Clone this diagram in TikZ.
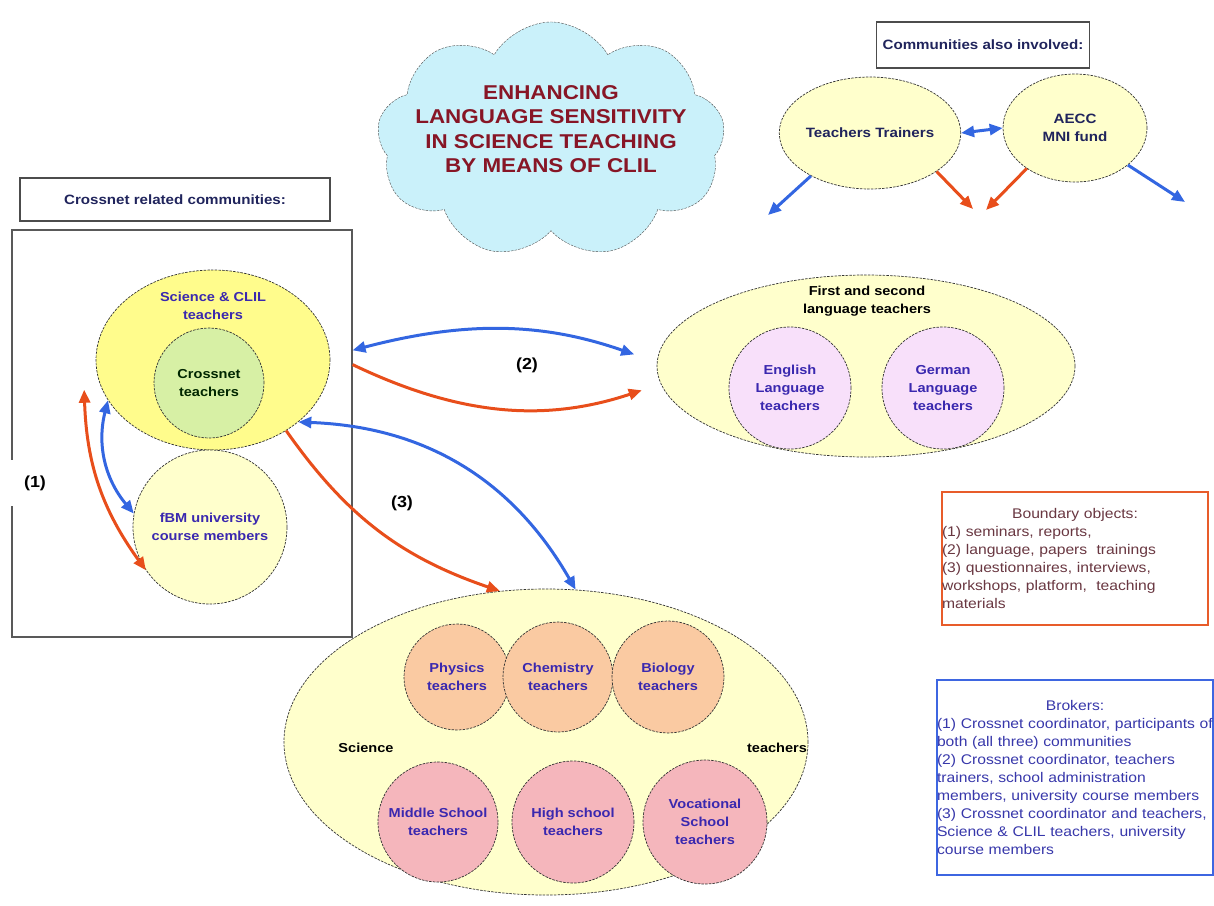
\documentclass[tikz,border=0pt]{standalone}
\usepackage{fontspec}
\setmainfont{Liberation Sans}[FakeStretch=1.12]
\usetikzlibrary{shapes.geometric,shapes.symbols,arrows.meta}
\definecolor{arrblue}{RGB}{51,102,225}
\definecolor{arrred}{RGB}{232,78,27}
\definecolor{labblue}{RGB}{58,40,175}
\definecolor{navy}{RGB}{32,36,92}
\definecolor{titlered}{RGB}{135,22,38}
\definecolor{cloudfill}{RGB}{202,241,250}
\definecolor{brightyellow}{RGB}{255,252,140}
\definecolor{paleyellow}{RGB}{255,255,204}
\definecolor{crossgreen}{RGB}{215,240,165}
\definecolor{lilac}{RGB}{248,224,250}
\definecolor{peach}{RGB}{250,202,162}
\definecolor{rosepink}{RGB}{245,182,188}
\definecolor{bordred}{RGB}{232,92,42}
\definecolor{bordblue}{RGB}{62,102,225}
\definecolor{boundtext}{RGB}{105,55,65}
\definecolor{brokertext}{RGB}{55,55,170}
\newcommand\labfont{\bfseries\fontsize{13}{18}\selectfont}
\newcommand\boxtextfont{\fontsize{14}{18}\selectfont}

\begin{document}
\begin{tikzpicture}[x=1pt, y=1pt, >={Triangle[length=13pt,width=11pt]},
  community/.style={ellipse, draw=black!80, dash pattern=on 2.5pt off 1.2pt, line width=0.7pt, inner sep=0pt},
  group/.style={circle, draw=black!80, dash pattern=on 2.5pt off 1.2pt, line width=0.7pt, inner sep=0pt,
    align=center, font=\labfont, text=labblue},
  plaintext/.style={align=center, font=\labfont},
  headbox/.style={draw=black!70, line width=1.1pt, font=\labfont\fontsize{13.5}{18}\selectfont, text=navy},
  numlabel/.style={font=\bfseries\fontsize{16}{18}\selectfont},
  bluearrow/.style={draw=arrblue, line width=3pt},
  redarrow/.style={draw=arrred, line width=3pt}]
\useasboundingbox (0,0) rectangle (1214,-905);
% Title cloud
\node[cloud, cloud puffs=9, cloud puff arc=120, draw=black!70, dash pattern=on 2.5pt off 1.2pt, fill=cloudfill,
  minimum width=348pt, minimum height=236pt, inner sep=0pt,
  label={[yshift=11pt, align=center, text=titlered, font=\bfseries\fontsize{20}{24.5}\selectfont]center:ENHANCING\\LANGUAGE SENSITIVITY\\IN SCIENCE TEACHING\\BY MEANS OF CLIL}]
  (cloud) at (551,-140) {};
% Communities also involved
\node[headbox, minimum width=213pt, minimum height=46pt] (involved) at (983,-45) {Communities also involved:};
\node[community, fill=paleyellow, minimum width=164pt, minimum height=112pt, font=\labfont\fontsize{13.5}{18}\selectfont, text=navy] (tt) at (870,-133) {Teachers Trainers};
\node[community, fill=paleyellow, minimum width=144pt, minimum height=108pt, align=center, font=\labfont\fontsize{13.5}{18}\selectfont, text=navy] (aecc) at (1075,-128) {AECC\\MNI fund};
\coordinate (ttout) at (768,-215);
\coordinate (ttin) at (973,-209);
\coordinate (aeccin) at (986,-210);
\coordinate (aeccout) at (1185,-202);
\draw[bluearrow,<->] (tt.east) -- (aecc.west);
\draw[bluearrow,->] (tt.216) -- (ttout);
\draw[redarrow,->] (tt.330) -- (ttin);
\draw[redarrow,->] (aecc.220) -- (aeccin);
\draw[bluearrow,->] (aecc.325) -- (aeccout);
% Crossnet related communities
\node[headbox, minimum width=310pt, minimum height=43pt] (related) at (175,-199.5) {Crossnet related communities:};
\node[draw=black!65, line width=1.1pt, minimum width=340pt, minimum height=407pt] (crossbox) at (182,-433.5) {};
\node[community, fill=brightyellow, minimum width=234pt, minimum height=180pt] (sci) at (213,-360) {};
\node[plaintext, text=labblue] (scitext) at (213,-306) {Science \& CLIL\\teachers};
\node[group, fill=crossgreen, minimum size=110pt, text=black!85!green] (crossnet) at (209,-383) {Crossnet\\teachers};
\node[group, fill=paleyellow, minimum size=154pt] (fbm) at (210,-527) {fBM university\\course members};
\node[numlabel, fill=white, inner xsep=14pt, minimum height=46pt] (one) at (35,-483) {(1)};
% First and second language teachers
\node[community, fill=paleyellow, minimum width=418pt, minimum height=182pt] (lang) at (866,-366) {};
\node[plaintext] (langtext) at (867,-301) {First and second\\language teachers};
\node[group, fill=lilac, minimum size=122pt] (english) at (790,-388) {English\\Language\\teachers};
\node[group, fill=lilac, minimum size=122pt] (german) at (943,-388) {German\\Language\\teachers};
% Science teachers
\node[community, fill=paleyellow, minimum width=524pt, minimum height=306pt] (science) at (546,-742) {};
\node[plaintext] (scileft) at (366,-748) {Science};
\node[plaintext] (sciright) at (777,-748) {teachers};
\node[group, fill=peach, minimum size=106pt] (physics) at (457,-677) {Physics\\teachers};
\node[group, fill=peach, minimum size=110pt] (chemistry) at (558,-677) {Chemistry\\teachers};
\node[group, fill=peach, minimum size=112pt] (biology) at (668,-677) {Biology\\teachers};
\node[group, fill=rosepink, minimum size=120pt] (middle) at (438,-822) {Middle School\\teachers};
\node[group, fill=rosepink, minimum size=122pt] (high) at (573,-822) {High school\\teachers};
\node[group, fill=rosepink, minimum size=124pt] (vocational) at (705,-822) {Vocational\\School\\teachers};
% Links (1), (2), (3)
\draw[bluearrow,<->] (sci.201) to[bend right=27] (fbm.170);
\draw[redarrow,<->] ([xshift=-18pt]sci.195) to[bend right=17] (fbm.214);
\draw[bluearrow,<->, shorten >=24pt] (crossbox.26) to[bend left=17] (lang.179);
\draw[redarrow,->, shorten >=20pt] (crossbox.22) to[bend right=22] (lang.185);
\node[numlabel] (two) at (527,-365) {(2)};
\draw[bluearrow,<->] (sci.324) to[bend left=29] (science.79);
\draw[redarrow,->] (sci.316) to[bend right=18] (science.107);
\node[numlabel] (three) at (402,-503) {(3)};
% Boundary objects and brokers
\node[draw=bordred, line width=2.2pt, minimum width=266pt, minimum height=133pt, text width=266pt,
  inner sep=0pt, align=left, font=\boxtextfont, text=boundtext] (boundary) at (1075,-558.5)
  {\makebox[\hsize][c]{Boundary objects:}\\(1) seminars, reports,\\(2) language, papers~ trainings\\(3) questionnaires, interviews,\\workshops, platform,~ teaching\\materials};
\node[draw=bordblue, line width=2.2pt, minimum width=274pt, minimum height=195pt, text width=276pt,
  inner sep=0pt, align=left, font=\boxtextfont, text=brokertext] (brokers) at (1075,-777.5)
  {\makebox[\hsize][c]{Brokers:}\\(1) Crossnet coordinator, participants of\\both (all three) communities\\(2) Crossnet coordinator, teachers\\trainers, school administration\\members, university course members\\(3) Crossnet coordinator and teachers,\\Science \& CLIL teachers, university\\course members};
\end{tikzpicture}
\end{document}
